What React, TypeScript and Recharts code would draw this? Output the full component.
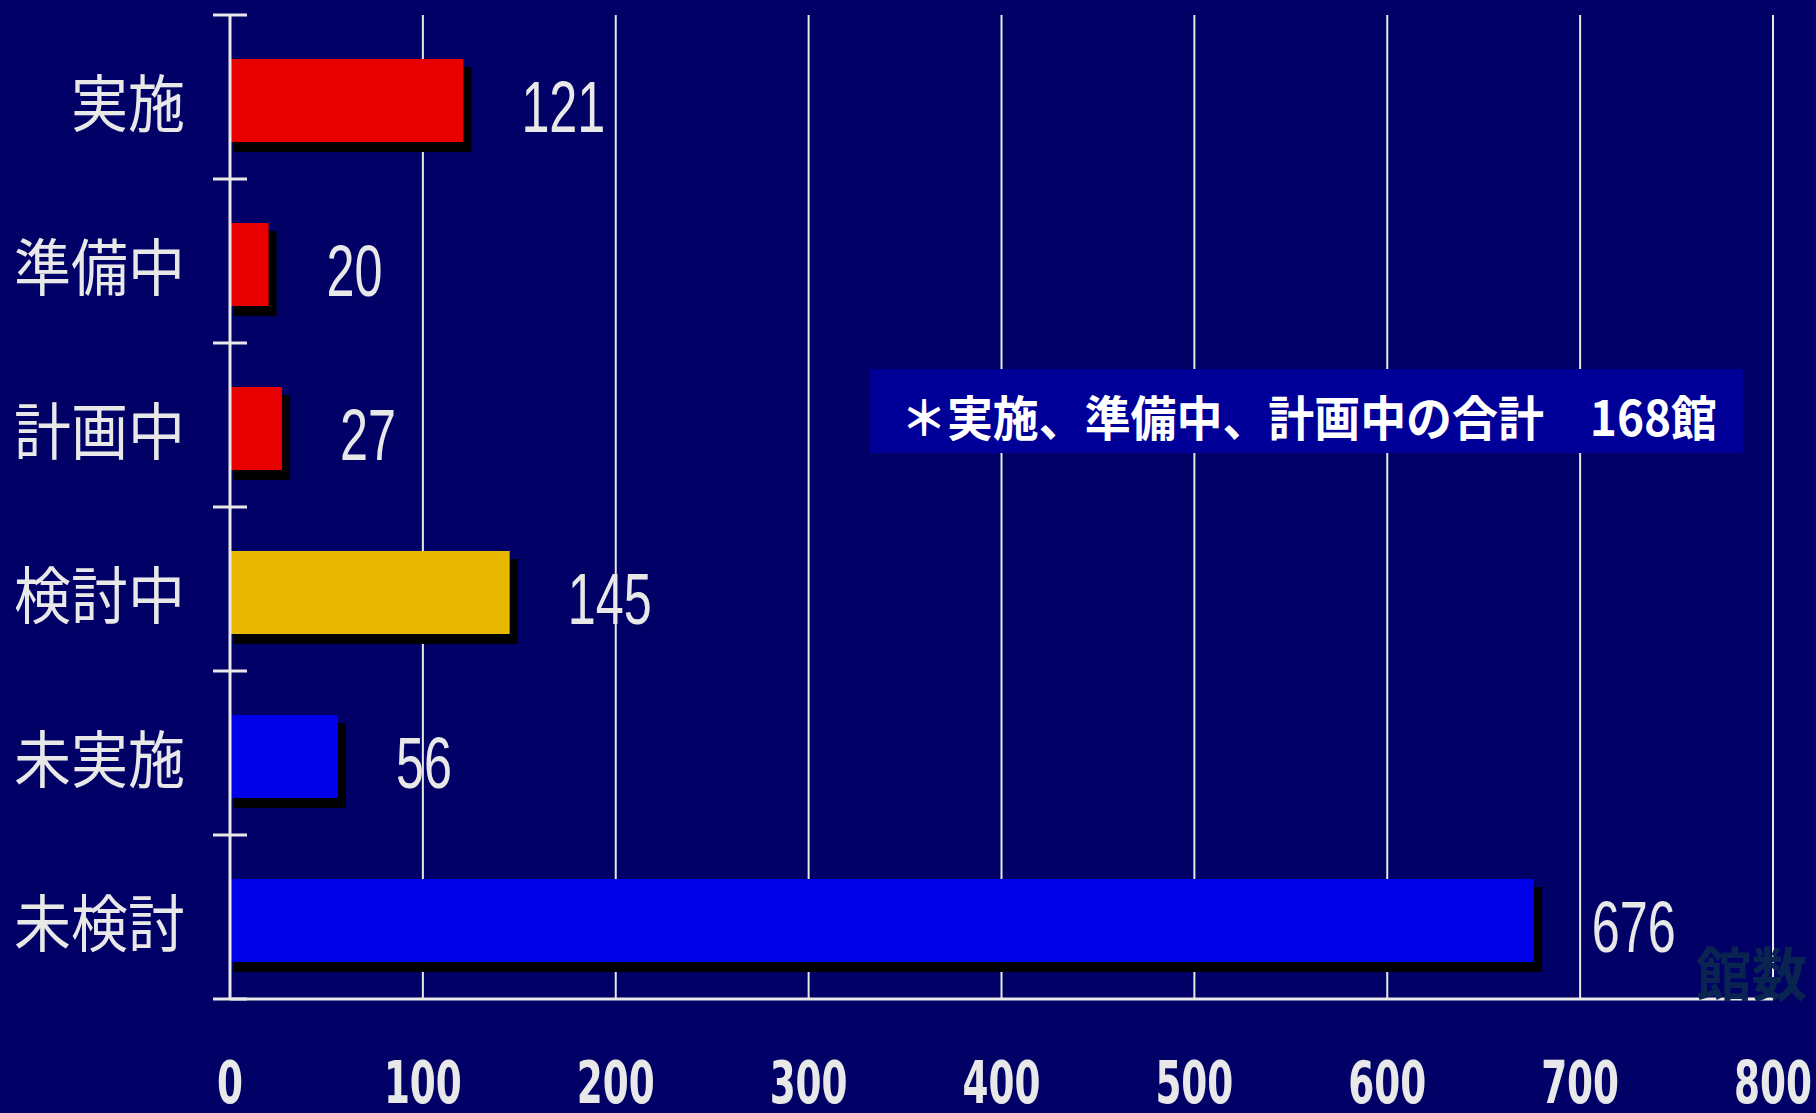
import { BarChart, Bar, XAxis, YAxis, CartesianGrid, LabelList } from "recharts";

const categories = ["実施", "準備中", "計画中", "検討中", "未実施", "未検討"];
const counts = [121, 20, 27, 145, 56, 676];
const barColors = ["#e80000", "#e80000", "#e80000", "#e8b800", "#0000e8", "#0000e8"];
const xTicks = [0, 100, 200, 300, 400, 500, 600, 700, 800];
const note = "＊実施、準備中、計画中の合計　168館";
const unitLabel = "館数";

const rows = categories.map((name, i) => ({ name, value: counts[i] }));

const BG = "#000066";
const LINE = "#e8e8e8";
const W = 1816;
const H = 1113;
const MARGIN = { top: 15, right: 43, bottom: 0, left: 0 };
const X_AXIS_H = 114;
// height of one category band, used for the boundary ticks on the y axis
const BAND = (H - MARGIN.top - X_AXIS_H) / categories.length;

const ShadowBar = (p: any) => {
  const { x, width, height, index } = p;
  const y = p.y + 3;
  return (
    <g>
      <rect x={x + 4} y={y + 8} width={width + 4} height={height + 2} fill="#000" />
      <rect x={x} y={y} width={width} height={height} fill={barColors[index]} />
    </g>
  );
};

const ValueLabel = (p: any) => {
  const { x, y, width, height, value } = p;
  const s = String(value);
  return (
    <text
      x={x + width + 58}
      y={y + height - 7}
      fill={LINE}
      fontSize={72}
      fontFamily="'Liberation Sans', Arimo, sans-serif"
      textLength={s.length * 28}
      lengthAdjust="spacingAndGlyphs"
    >
      {s}
    </text>
  );
};

const CategoryTick = (p: any) => {
  const { x, y, payload, index } = p;
  const s = String(payload.value);
  const half = BAND / 2;
  return (
    <g>
      <line x1={x - 17} x2={x + 17} y1={y - half} y2={y - half} stroke={LINE} strokeWidth={3} />
      {index === categories.length - 1 && (
        <line x1={x - 17} x2={x + 17} y1={y + half} y2={y + half} stroke={LINE} strokeWidth={3} />
      )}
      <text
        x={x - 45}
        y={y + 30}
        textAnchor="end"
        fill={LINE}
        fontSize={62}
        fontFamily="'Noto Sans CJK JP', sans-serif"
        textLength={s.length * 57}
        lengthAdjust="spacingAndGlyphs"
      >
        {s}
      </text>
    </g>
  );
};

const NumberTick = (p: any) => {
  const { x, y, payload } = p;
  const s = String(payload.value);
  return (
    <text
      x={x}
      y={y + 104}
      textAnchor="middle"
      fill={LINE}
      fontSize={58}
      fontWeight="bold"
      fontFamily="'Liberation Sans Narrow', 'DejaVu Sans Condensed', sans-serif"
      textLength={s.length * 26}
      lengthAdjust="spacingAndGlyphs"
    >
      {s}
    </text>
  );
};

export default function App() {
  return (
    <div style={{ position: "absolute", left: 0, top: 0, width: W, height: H, background: BG, overflow: "hidden" }}>
      <BarChart layout="vertical" width={W} height={H} data={rows} margin={MARGIN} barSize={83}>
        <CartesianGrid horizontal={false} stroke={LINE} strokeWidth={2} />
        <XAxis
          type="number"
          domain={[0, 800]}
          ticks={xTicks}
          interval={0}
          height={X_AXIS_H}
          axisLine={{ stroke: LINE, strokeWidth: 3 }}
          tickLine={false}
          tickSize={0}
          tickMargin={0}
          tick={<NumberTick />}
        />
        <YAxis
          type="category"
          dataKey="name"
          width={230}
          interval={0}
          axisLine={{ stroke: LINE, strokeWidth: 3 }}
          tickLine={false}
          tickSize={0}
          tickMargin={0}
          tick={<CategoryTick />}
        />
        <Bar dataKey="value" shape={ShadowBar} isAnimationActive={false}>
          <LabelList dataKey="value" content={ValueLabel} />
        </Bar>
      </BarChart>
      <svg width={W} height={H} style={{ position: "absolute", left: 0, top: 0, pointerEvents: "none" }}>
        <rect x={870} y={369} width={873} height={84} fill="#000099" />
        <text
          x={901}
          y={436}
          fill="#ffffff"
          fontSize={48}
          fontWeight="bold"
          fontFamily="'Noto Sans CJK JP', sans-serif"
          textLength={816}
          lengthAdjust="spacingAndGlyphs"
        >
          {note}
        </text>
        <text
          x={1696}
          y={996}
          fill="#0a2452"
          fontSize={58}
          fontWeight="bold"
          fontFamily="'Noto Sans CJK JP', sans-serif"
          textLength={111}
          lengthAdjust="spacingAndGlyphs"
        >
          {unitLabel}
        </text>
      </svg>
    </div>
  );
}
